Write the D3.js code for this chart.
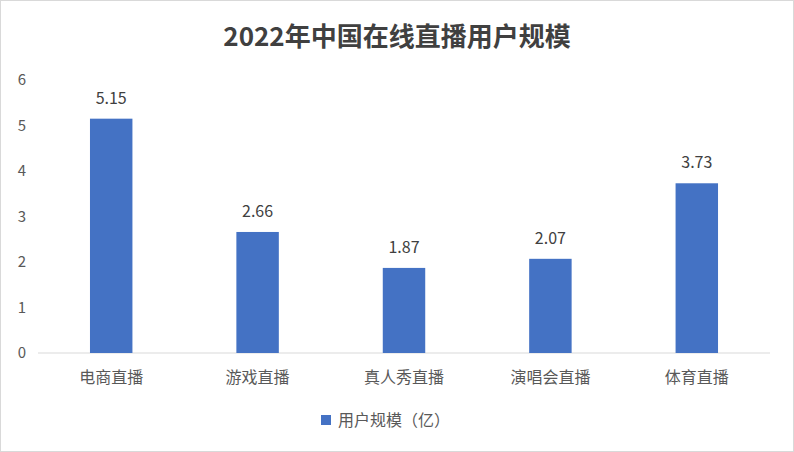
<!DOCTYPE html>
<html><head><meta charset="utf-8">
<script src="https://cdn.jsdelivr.net/npm/d3@7"></script>
<style>body{margin:0;background:#fff}text{font-family:"Noto Sans CJK SC","Noto Sans",sans-serif}</style>
</head><body>
<svg id="chart" width="794" height="452"></svg>
<script>
const categories = ["电商直播", "游戏直播", "真人秀直播", "演唱会直播", "体育直播"];
const values = [5.15, 2.66, 1.87, 2.07, 3.73];
const yTicks = [0, 1, 2, 3, 4, 5, 6];
const seriesName = "用户规模（亿）";

const svg = d3.select("#chart");
const margin = {top: 80, right: 24, bottom: 99, left: 38};
const W = 794, H = 452;
const innerW = W - margin.left - margin.right, innerH = H - margin.top - margin.bottom;
const blue = "#4472C4", grey = "#595959";

svg.append("rect").attr("x", 0.5).attr("y", 0.5).attr("width", W - 1).attr("height", H - 1)
    .attr("fill", "#fff").attr("stroke", "#d9d9d9");

svg.append("text").attr("x", W / 2).attr("y", 46).attr("text-anchor", "middle")
    .attr("font-size", 26).attr("font-weight", "bold").attr("fill", "#404040")
    .text("2022年中国在线直播用户规模");

const g = svg.append("g").attr("transform", `translate(${margin.left},${margin.top})`);
const x = d3.scaleBand().domain(categories).range([0, innerW]).paddingInner(0.71).paddingOuter(0.355);
const y = d3.scaleLinear().domain([0, 6]).range([innerH, 0]);

// y tick labels
g.selectAll(".yt").data(yTicks).enter().append("text")
    .attr("x", -16).attr("y", d => y(d) + 5).attr("text-anchor", "middle")
    .attr("font-size", 15).attr("fill", grey).text(d => d);

// baseline
g.append("line").attr("x1", 0).attr("x2", innerW).attr("y1", innerH).attr("y2", innerH)
    .attr("stroke", "#d9d9d9");

g.selectAll(".bar").data(values).enter().append("rect")
    .attr("x", (d, i) => x(categories[i])).attr("width", x.bandwidth())
    .attr("y", d => y(d)).attr("height", d => innerH - y(d)).attr("fill", blue);

g.selectAll(".lbl").data(values).enter().append("text")
    .attr("x", (d, i) => x(categories[i]) + x.bandwidth() / 2).attr("y", d => y(d) - 15)
    .attr("text-anchor", "middle").attr("font-size", 16).attr("fill", "#404040").text(d => d);

g.selectAll(".cat").data(categories).enter().append("text")
    .attr("x", d => x(d) + x.bandwidth() / 2).attr("y", innerH + 30)
    .attr("text-anchor", "middle").attr("font-size", 16).attr("fill", grey).text(d => d);

// legend
svg.append("rect").attr("x", 321).attr("y", 415).attr("width", 10).attr("height", 10).attr("fill", blue);
svg.append("text").attr("x", 338).attr("y", 426).attr("font-size", 16).attr("fill", grey).text(seriesName);
</script>
</body></html>
